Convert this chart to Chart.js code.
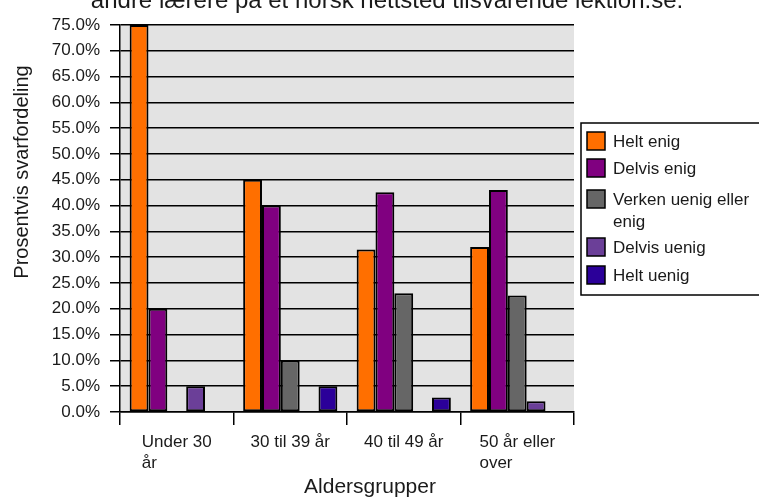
<!DOCTYPE html>
<html>
<head>
<meta charset="utf-8">
<script src="https://cdn.jsdelivr.net/npm/chart.js@4"></script>
<style>
  html, body { margin: 0; padding: 0; background: #fff; overflow: hidden; }
  #wrap { width: 759px; height: 498px; position: relative; }
</style>
</head>
<body>
<div id="wrap"><canvas id="barChart"></canvas></div>
<script>
// Aldersgrupper
const categories = [['Under 30', 'år'], ['30 til 39 år'], ['40 til 49 år'], ['50 år eller', 'over']];
const seriesNames = ['Helt enig', 'Delvis enig', 'Verken uenig eller enig', 'Delvis uenig', 'Helt uenig'];
const legendLines = [['Helt enig'], ['Delvis enig'], ['Verken uenig eller', 'enig'], ['Delvis uenig'], ['Helt uenig']];
const seriesColors = ['#ff6f00', '#800080', '#666666', '#6b3f98', '#2b0099'];

// prosent
const heltEnig    = [75.0, 45.0, 31.5, 32.0];
const delvisEnig  = [20.0, 40.0, 42.6, 43.0];
const verken      = [0.0, 10.0, 23.0, 22.6];
const delvisUenig = [5.0, 0.0, 0.0, 2.1];
const heltUenig   = [0.0, 5.0, 2.8, 0.0];

const yMin = 0, yMax = 75, yStep = 5;

const titleText = 'andre lærere på et norsk nettsted tilsvarende lektion.se.';
const yTitle = 'Prosentvis svarfordeling';
const xTitle = 'Aldersgrupper';

const FONT = "'Liberation Sans', Arial, sans-serif";
const seriesValues = [heltEnig, delvisEnig, verken, delvisUenig, heltUenig];

const decor = {
  id: 'decor',
  beforeDraw(chart) {
    const { ctx, chartArea: a } = chart;
    ctx.save();
    ctx.fillStyle = '#e3e3e3';
    ctx.fillRect(a.left, a.top, a.right - a.left, a.bottom - a.top);
    ctx.restore();
  },
  afterDraw(chart) {
    const { ctx, chartArea: a } = chart;
    const xs = chart.scales.x;
    ctx.save();
    ctx.fillStyle = '#1a1a1a';

    // tittel (toppen er kuttet)
    ctx.font = '24px ' + FONT;
    ctx.textAlign = 'center';
    ctx.textBaseline = 'alphabetic';
    ctx.fillText(titleText, 387, 8);

    // kategori-etiketter, venstrejustert under hverandre
    ctx.font = '17px ' + FONT;
    ctx.textAlign = 'left';
    categories.forEach((lines, i) => {
      const px = xs.getPixelForTick(i);
      const x0 = px - ctx.measureText(lines[0]).width / 2;
      lines.forEach((ln, j) => ctx.fillText(ln, x0, a.bottom + 35 + j * 21));
    });

    // aksetitler
    ctx.font = '21px ' + FONT;
    ctx.textAlign = 'center';
    ctx.fillText(xTitle, 370, 493);
    ctx.save();
    ctx.translate(28, 172);
    ctx.rotate(-Math.PI / 2);
    ctx.font = '20px ' + FONT;
    ctx.fillText(yTitle, 0, 0);
    ctx.restore();

    // tegnforklaring
    ctx.strokeStyle = '#000';
    ctx.lineWidth = 1.5;
    ctx.strokeRect(581, 123, 190, 172);
    const rowY = [141, 168, 199, 247, 275];
    ctx.font = '17px ' + FONT;
    ctx.textAlign = 'left';
    ctx.textBaseline = 'middle';
    chart.data.datasets.forEach((ds, i) => {
      ctx.fillStyle = ds.backgroundColor;
      ctx.fillRect(587, rowY[i] - 9, 18, 18);
      ctx.lineWidth = 1.5;
      ctx.strokeRect(587, rowY[i] - 9, 18, 18);
      ctx.fillStyle = '#1a1a1a';
      legendLines[i].forEach((ln, j) => ctx.fillText(ln, 613, rowY[i] + 1 + j * 22));
    });
    ctx.restore();
  }
};

const ctx1 = document.getElementById('barChart');

new Chart(ctx1, {
  type: 'bar',
  data: {
    labels: categories.map(l => l.join(' ')),
    datasets: seriesNames.map((name, i) => ({
      label: name,
      data: seriesValues[i],
      backgroundColor: seriesColors[i],
      borderColor: '#000',
      borderWidth: c => (c.raw === 0 ? 0 : 2),
      borderSkipped: false,
      categoryPercentage: 0.83,
      barPercentage: 1.0
    }))
  },
  options: {
    responsive: true,
    maintainAspectRatio: false,
    animation: false,
    devicePixelRatio: 1,
    layout: { padding: { top: 25, right: 185, left: 0, bottom: 0 } },
    plugins: {
      legend: { display: false },
      title: { display: false },
      tooltip: { enabled: false }
    },
    scales: {
      x: {
        afterFit(scale) { scale.height = 86; },
        grid: { offset: true, drawOnChartArea: false, color: '#000', lineWidth: 1.5, tickLength: 13 },
        border: { color: '#000', width: 1.5 },
        ticks: { display: false }
      },
      y: {
        min: yMin,
        max: yMax,
        afterFit(scale) { scale.width = 120; },
        grid: { color: '#000', lineWidth: 1.5, tickLength: 10 },
        border: { color: '#000', width: 1.5 },
        ticks: {
          stepSize: yStep,
          padding: 10,
          color: '#1a1a1a',
          font: { family: FONT, size: 17 },
          callback: v => v.toFixed(1) + '%'
        }
      }
    }
  },
  plugins: [decor]
});
</script>
</body>
</html>
